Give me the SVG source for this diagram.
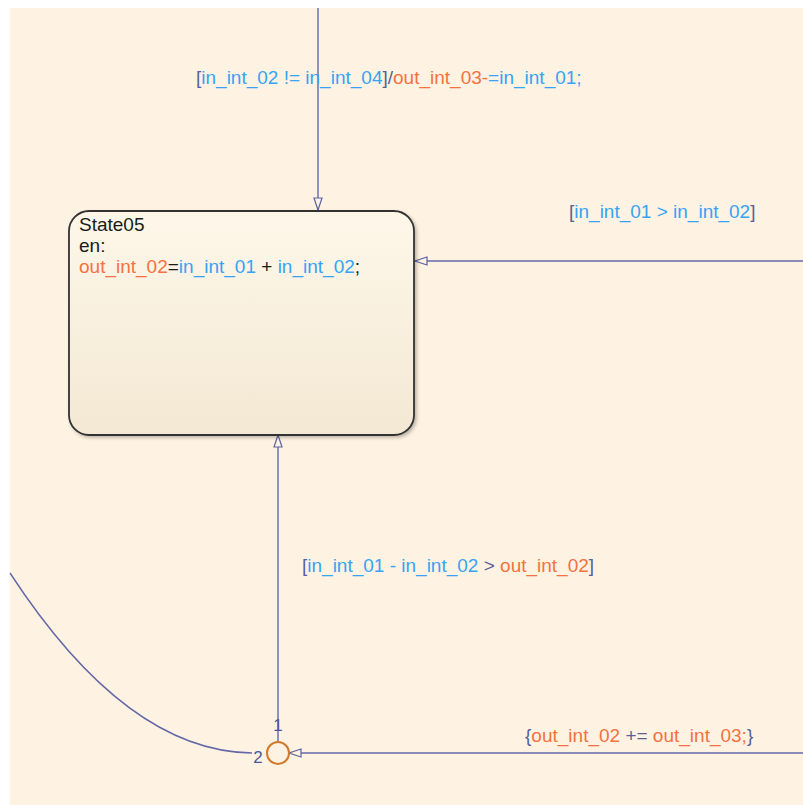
<svg xmlns="http://www.w3.org/2000/svg" width="803" height="805" viewBox="0 0 803 805">
  <defs>
    <linearGradient id="stateFill" x1="0" y1="0" x2="0" y2="1">
      <stop offset="0" stop-color="#fef7e9"/>
      <stop offset="1" stop-color="#f3e8d3"/>
    </linearGradient>
    <filter id="shadow" x="-10%" y="-10%" width="120%" height="120%">
      <feGaussianBlur stdDeviation="2"/>
    </filter>
    <marker id="openArrow" markerUnits="userSpaceOnUse" markerWidth="16" markerHeight="12" refX="13" refY="6" orient="auto">
      <path d="M1,2 L13,6 L1,10 Z" fill="#fdf3e2" stroke="#5d62a3" stroke-width="1.2"/>
    </marker>
  </defs>
  <style>
    text { font-family: "Liberation Sans", Arial, sans-serif; font-size: 19px; }
    .wire { fill: none; stroke: #6468a8; stroke-width: 1.4; }
    .b { fill: #36a3f5; }
    .o { fill: #f47140; }
    .g { fill: #5b5e99; }
    .k { fill: #1a1a1a; }
    .num { fill: #4c56a0; font-size: 17px; }
  </style>

  <!-- chart canvas -->
  <rect x="0" y="0" width="803" height="805" fill="#ffffff"/>
  <rect x="10" y="8" width="793" height="797" fill="#fef3e2"/>

  <!-- transitions -->
  <g id="connectors">
    <path class="wire" d="M318,8 L318,210" marker-end="url(#openArrow)"/>
    <path class="wire" d="M803,261 L415,261" marker-end="url(#openArrow)"/>
    <path class="wire" d="M278,742 L278,435" marker-end="url(#openArrow)"/>
    <path class="wire" d="M803,753 L289,753" marker-end="url(#openArrow)"/>
    <path class="wire" d="M10,573 C85,688 165,752 252,753"/>

    <text x="196" y="84"><tspan class="g">[</tspan><tspan class="b">in_int_02 != in_int_04</tspan><tspan class="g">]/</tspan><tspan class="o">out_int_03-</tspan><tspan class="b">=in_int_01;</tspan></text>
    <text x="569" y="218"><tspan class="g">[</tspan><tspan class="b">in_int_01 &gt; in_int_02</tspan><tspan class="g">]</tspan></text>
    <text x="302" y="572"><tspan class="g">[</tspan><tspan class="b">in_int_01 - in_int_02</tspan><tspan class="g"> &gt; </tspan><tspan class="o">out_int_02</tspan><tspan class="g">]</tspan></text>
    <text x="525" y="742"><tspan class="g">{</tspan><tspan class="o">out_int_02</tspan><tspan class="g"> += </tspan><tspan class="o">out_int_03;</tspan><tspan class="g">}</tspan></text>
  </g>

  <!-- state -->
  <g id="State05">
    <rect x="71" y="213" width="345" height="224" rx="20" ry="20" fill="#000" opacity="0.35" filter="url(#shadow)"/>
    <rect x="69" y="211" width="345" height="224" rx="20" ry="20" fill="url(#stateFill)" stroke="#333333" stroke-width="1.8"/>
    <text x="79" y="231" class="k">State05</text>
    <text x="79" y="252" class="k">en:</text>
    <text x="79" y="273"><tspan class="o">out_int_02</tspan><tspan class="k">=</tspan><tspan class="b">in_int_01</tspan><tspan class="k"> + </tspan><tspan class="b">in_int_02</tspan><tspan class="k">;</tspan></text>
  </g>

  <!-- connective junction -->
  <g id="junction">
    <circle cx="278" cy="753" r="11" fill="#fef3e2" stroke="#d27a2c" stroke-width="2"/>
    <text x="278" y="731" class="num" text-anchor="middle">1</text>
    <text x="258" y="763" class="num" text-anchor="middle">2</text>
  </g>
</svg>
